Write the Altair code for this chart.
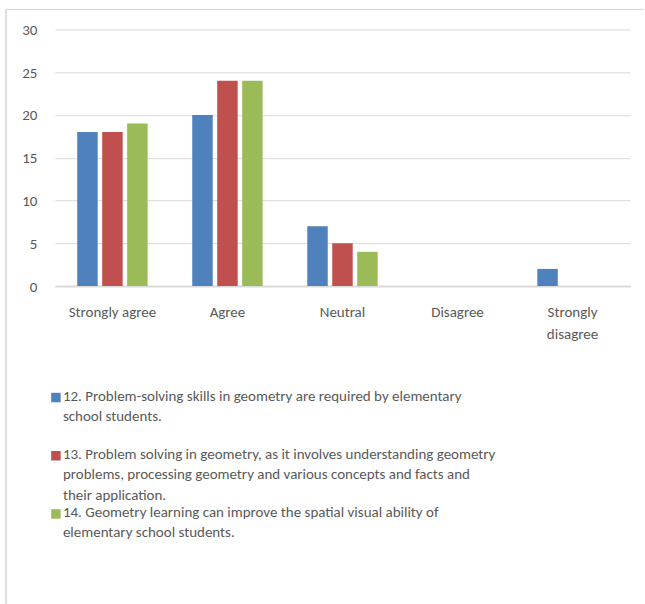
import altair as alt
import pandas as pd

categories = ["Strongly agree", "Agree", "Neutral", "Disagree", "Strongly disagree"]
series_names = [
    "12. Problem-solving skills in geometry are required by elementary school students.",
    "13. Problem solving in geometry, as it involves understanding geometry problems, processing geometry and various concepts and facts and their application.",
    "14. Geometry learning can improve the spatial visual ability of elementary school students.",
]
legend_lines = [
    "12. Problem-solving skills in geometry are required by elementary\nschool students.",
    "13. Problem solving in geometry, as it involves understanding geometry\nproblems, processing geometry and various concepts and facts and\ntheir application.",
    "14. Geometry learning can improve the spatial visual ability of\nelementary school students.",
]
s12 = [18, 20, 7, 0, 2]
s13 = [18, 24, 5, 0, 0]
s14 = [19, 24, 4, 0, 0]
colors = ["#4f81bd", "#c0504d", "#9bbb59"]
y_ticks = [0, 5, 10, 15, 20, 25, 30]

rows = []
for name, vals in zip(series_names, [s12, s13, s14]):
    for c, v in zip(categories, vals):
        rows.append({"category": c, "series": name, "value": v})
df = pd.DataFrame(rows)
leg = pd.DataFrame({"series": series_names, "text": legend_lines})

FONT = "Carlito, Lato, sans-serif"
GRAY = "#595959"
LINE = "#d9d9d9"

color_scale = alt.Scale(domain=series_names, range=colors)

bars = alt.Chart(df).transform_filter("datum.value > 0").mark_bar().encode(
    x=alt.X("category:N", sort=categories,
            scale=alt.Scale(domain=categories, paddingInner=0.388, paddingOuter=0.194),
            axis=alt.Axis(title=None, labelAngle=0, ticks=False, domain=True,
                          domainColor=LINE, domainWidth=2, labelPadding=19,
                          labelBaseline="top", labelLineHeight=22,
                          labelExpr="length(datum.label) > 15 ? split(datum.label, ' ') : datum.label",
                          labelFont=FONT, labelFontSize=15, labelColor=GRAY)),
    xOffset=alt.XOffset("series:N", sort=series_names,
                        scale=alt.Scale(domain=series_names, paddingInner=0.18, paddingOuter=0)),
    y=alt.Y("value:Q", scale=alt.Scale(domain=[0, 30], nice=False),
            axis=alt.Axis(title=None, values=y_ticks, ticks=False, domain=False,
                          grid=True, gridColor=LINE, labelPadding=18,
                          labelFont=FONT, labelFontSize=15, labelColor=GRAY)),
    color=alt.Color("series:N", scale=color_scale, legend=None),
)

leg_y = alt.Y("series:N", sort=series_names,
              scale=alt.Scale(type="point", domain=series_names, range=[368.7, 485.3], padding=0),
              axis=None)

squares = alt.Chart(leg).mark_square(size=90, opacity=1).encode(
    x=alt.value(1),
    y=leg_y,
    color=alt.Color("series:N", scale=color_scale, legend=None),
)
texts = alt.Chart(leg).mark_text(align="left", baseline="top", dy=-9, lineBreak="\n",
                                 lineHeight=20.5, font=FONT, fontSize=15, color=GRAY).encode(
    x=alt.value(8),
    y=leg_y,
    text="text:N",
)
legend_layer = alt.layer(squares, texts)

border_top = alt.Chart(leg).mark_rule(color=LINE, strokeWidth=1).encode(
    x=alt.value(-49), x2=alt.value(590), y=alt.value(-20))
border_left = alt.Chart(leg).mark_rule(color=LINE, strokeWidth=1).encode(
    x=alt.value(-49), y=alt.value(-20), y2=alt.value(575))

chart = alt.layer(bars, legend_layer, border_top, border_left).resolve_scale(
    y="independent"
).properties(
    width=576, height=257,
    padding={"left": 5, "top": 8, "right": 0, "bottom": 0},
    background="white",
).configure_view(stroke=None)

chart.save("out.html", embed_options={"renderer": "svg", "actions": False})
